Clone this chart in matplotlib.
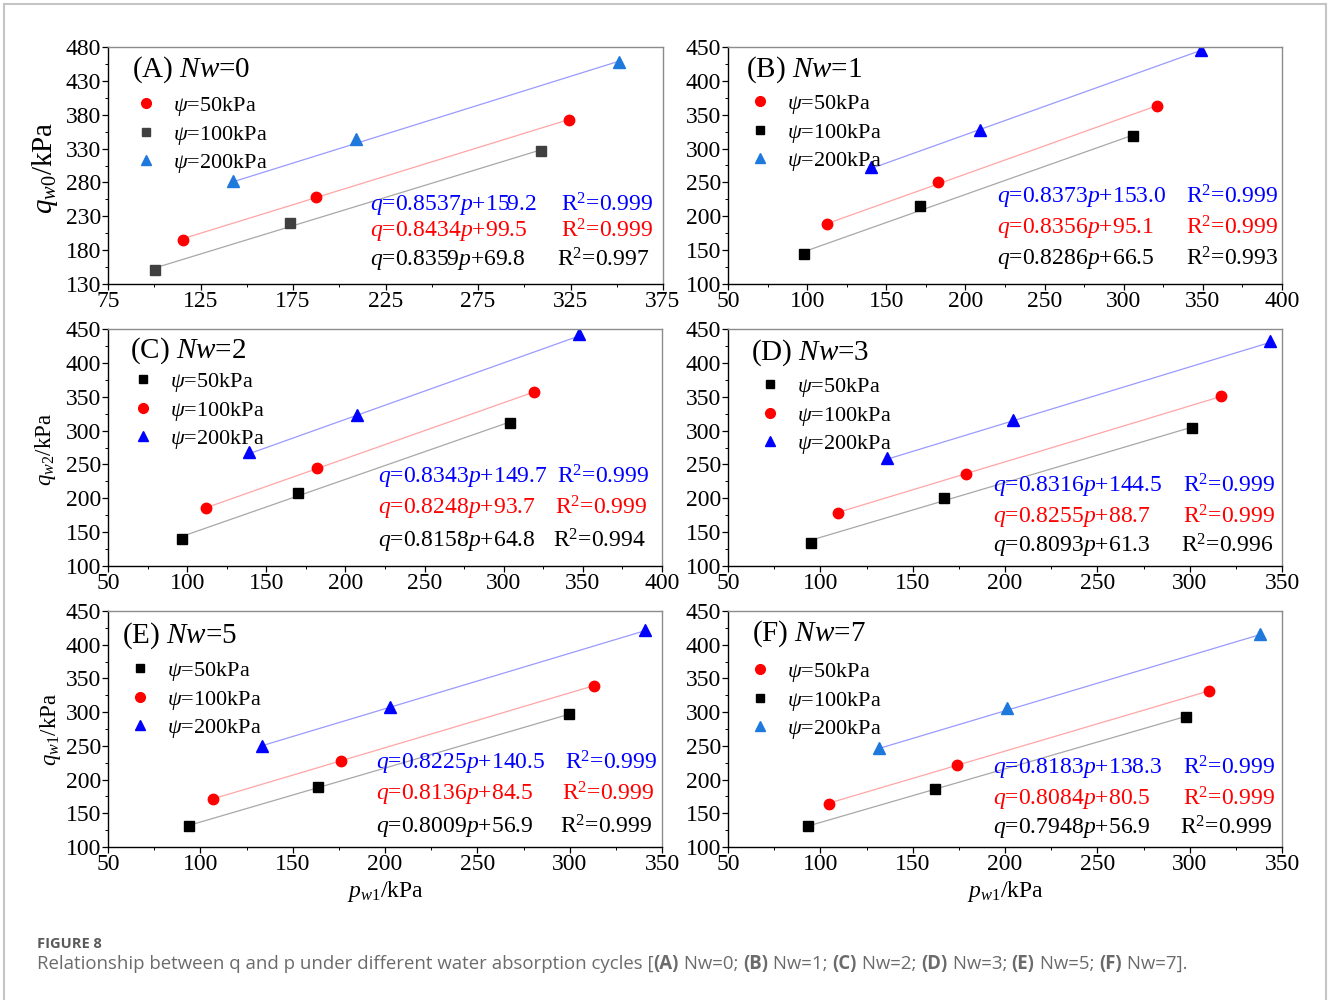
import numpy as np
import matplotlib
matplotlib.use("Agg")
import matplotlib.pyplot as plt
from matplotlib.lines import Line2D
from matplotlib.patches import Rectangle
from matplotlib.ticker import AutoMinorLocator

plt.rcParams['font.family'] = ['Liberation Serif', 'DejaVu Serif']
plt.rcParams['mathtext.fontset'] = 'custom'
plt.rcParams['mathtext.rm'] = 'Liberation Serif'
plt.rcParams['mathtext.it'] = 'Liberation Serif:italic'
plt.rcParams['mathtext.bf'] = 'Liberation Serif:bold'

# panels A..F -> Nw values
panels = ['A', 'B', 'C', 'D', 'E', 'F']
nw = [0, 1, 2, 3, 5, 7]

# red circles
red_p = [[115.5, 187.5, 324.0], [112.7, 182.9, 321.0], [111.9, 181.8, 319.1],
         [109.5, 179.0, 316.8], [107.1, 176.4, 313.3], [104.6, 174.1, 310.4]]
red_q = [[195.5, 259.0, 371.5], [189.0, 250.0, 362.5], [185.0, 244.0, 356.3],
         [178.7, 236.6, 351.0], [171.5, 228.1, 339.0], [164.1, 221.7, 330.7]]
# black squares
black_p = [[100.5, 173.5, 309.0], [97.8, 171.3, 305.8], [96.9, 169.8, 303.8],
           [94.9, 166.8, 301.1], [93.9, 163.5, 299.5], [93.1, 162.2, 297.8]]
black_q = [[151.0, 220.5, 326.0], [144.0, 215.5, 318.0], [140.0, 208.0, 310.5],
           [134.7, 201.0, 304.0], [130.6, 189.7, 297.6], [130.6, 186.2, 292.7]]
# blue triangles
blue_p = [[142.5, 209.0, 351.0], [140.6, 209.0, 348.7], [139.3, 207.3, 347.3],
          [136.1, 204.6, 343.4], [133.4, 202.9, 340.6], [131.6, 201.3, 338.3]]
blue_q = [[281.5, 344.0, 458.0], [273.0, 328.0, 446.0], [268.5, 322.8, 442.5],
          [259.4, 316.3, 432.7], [250.3, 307.5, 421.3], [246.4, 305.5, 415.4]]

# fitted q = k*p + b  (blue, red, black)
slope = [[0.8537, 0.8434, 0.8359], [0.8373, 0.8356, 0.8286], [0.8343, 0.8248, 0.8158],
         [0.8316, 0.8255, 0.8093], [0.8225, 0.8136, 0.8009], [0.8183, 0.8084, 0.7948]]
icpt = [[159.2, 99.5, 69.8], [153.0, 95.1, 66.5], [149.7, 93.7, 64.8],
        [144.5, 88.7, 61.3], [140.5, 84.5, 56.9], [138.3, 80.5, 56.9]]
slope_txt = [['0.8537', '0.8434', '0.8359'], ['0.8373', '0.8356', '0.8286'],
             ['0.8343', '0.8248', '0.8158'], ['0.8316', '0.8255', '0.8093'],
             ['0.8225', '0.8136', '0.8009'], ['0.8183', '0.8084', '0.7948']]
icpt_txt = [['159.2', '99.5', '69.8'], ['153.0', '95.1', '66.5'], ['149.7', '93.7', '64.8'],
            ['144.5', '88.7', '61.3'], ['140.5', '84.5', '56.9'], ['138.3', '80.5', '56.9']]
r2_txt = [['0.999', '0.999', '0.997'], ['0.999', '0.999', '0.993'], ['0.999', '0.999', '0.994'],
          ['0.999', '0.999', '0.996'], ['0.999', '0.999', '0.999'], ['0.999', '0.999', '0.999']]

# suction label for each series (red, black) per panel
red_psi = ['50', '50', '100', '100', '100', '50']
black_psi = ['100', '100', '50', '50', '50', '100']

xlims = [(75, 375), (50, 400), (50, 400), (50, 350), (50, 350), (50, 350)]
ylims = [(130, 480), (100, 450), (100, 450), (100, 450), (100, 450), (100, 450)]

W, H = 1328, 1000
fig = plt.figure(figsize=(W / 100, H / 100), dpi=100)

# axes boxes in pixels: left, right, top, bottom
boxes = [(108, 663, 47, 284), (728, 1282, 47, 284),
         (108, 662, 329, 566), (728, 1282, 329, 566),
         (108, 662, 611, 847), (728, 1282, 611, 847)]
title_pos = [(132, 70), (746, 70), (130, 351), (751, 353), (122, 636), (752, 634)]
legend_pos = [(146, 104), (760, 102), (143, 380), (770, 385), (140, 669), (760, 670)]
eq_pos = [(370, [205, 231, 260], [561, 561, 557]),
          (997, [197, 228, 259], [1186, 1186, 1186]),
          (378, [477, 508, 541], [557, 555, 553]),
          (993, [486, 517, 546], [1183, 1183, 1181]),
          (376, [763, 794, 827], [565, 562, 560]),
          (993, [768, 799, 828], [1183, 1183, 1180])]

# blue shade of triangles in the plot and in the legend
tri_col = ['#1f78dc', '#0000ff', '#0000ff', '#0000ff', '#0000ff', '#1f78dc']
tri_leg = ['#1f78dc', '#1f78dc', '#0000ff', '#0000ff', '#0000ff', '#1f78dc']
sq_col = ['#404040', '#000000', '#000000', '#000000', '#000000', '#000000']


def fx(x):
    return x / W


def fy(y):
    return 1 - y / H


for i in range(6):
    l, r, t, b = boxes[i]
    ax = fig.add_axes([fx(l), fy(b), (r - l) / W, (b - t) / H])
    ax.set_xlim(*xlims[i])
    ax.set_ylim(*ylims[i])
    xt = np.arange(xlims[i][0], xlims[i][1] + 1, 50)
    yt = np.arange(ylims[i][0], ylims[i][1] + 1, 50)
    ax.set_xticks(xt, labels=[str(v) for v in xt], fontfamily='Liberation Serif')
    ax.set_yticks(yt, labels=[str(v) for v in yt], fontfamily='Liberation Serif')
    ax.xaxis.set_minor_locator(AutoMinorLocator(2))
    ax.yaxis.set_minor_locator(AutoMinorLocator(2))
    ax.tick_params(which='major', direction='out', length=4, width=0.9, labelsize=17, pad=1)
    ax.tick_params(which='minor', direction='out', length=2.5, width=0.7)
    for s in ['top', 'right']:
        ax.spines[s].set_color('#8c8c8c')
        ax.spines[s].set_linewidth(1.0)
    for s in ['left', 'bottom']:
        ax.spines[s].set_color('black')
        ax.spines[s].set_linewidth(1.0)

    # fit lines
    k, c = slope[i], icpt[i]
    xs = np.array([min(blue_p[i]), max(blue_p[i])])
    ax.plot(xs, k[0] * xs + c[0], color='#9a9aff', lw=0.9)
    xs = np.array([min(red_p[i]), max(red_p[i])])
    ax.plot(xs, k[1] * xs + c[1], color='#ffa5a5', lw=0.9)
    xs = np.array([min(black_p[i]), max(black_p[i])])
    ax.plot(xs, k[2] * xs + c[2], color='#a8a8a8', lw=0.9)

    ax.plot(red_p[i], red_q[i], 'o', color='#ff0000', ms=7.5, ls='none')
    ax.plot(black_p[i], black_q[i], 's', color=sq_col[i], ms=6.5, ls='none')
    ax.plot(blue_p[i], blue_q[i], '^', color=tri_col[i], ms=8, ls='none')

    # legend
    h_red = Line2D([], [], marker='o', color='#ff0000', ls='none', ms=7,
                   label=r'$\psi$=' + red_psi[i] + 'kPa')
    h_blk = Line2D([], [], marker='s', color=sq_col[i], ls='none', ms=6,
                   label=r'$\psi$=' + black_psi[i] + 'kPa')
    h_blu = Line2D([], [], marker='^', color=tri_leg[i], ls='none', ms=7.5,
                   label=r'$\psi$=200kPa')
    handles = [h_red, h_blk, h_blu] if red_psi[i] == '50' else [h_blk, h_red, h_blu]
    mx, my = legend_pos[i]
    fs = 16
    hl = 1.0
    ax.legend(handles=handles, loc='upper left', frameon=False, fontsize=fs,
              handlelength=hl, handletextpad=0.7, labelspacing=0.25, borderpad=0,
              borderaxespad=0, bbox_to_anchor=(fx(mx - hl * fs * 100 / 72 / 2), fy(my - 9)),
              bbox_transform=fig.transFigure)

    # panel title
    tx, ty = title_pos[i]
    fig.text(fx(tx), fy(ty), '(' + panels[i] + ') $Nw$=' + str(nw[i]),
             fontsize=21, ha='left', va='center')

    # equations
    ex, eys, rxs = eq_pos[i]
    for j, col in enumerate(['#0000ff', '#ff0000', '#000000']):
        fig.text(fx(ex), fy(eys[j]), '$q$=' + slope_txt[i][j] + '$p$+' + icpt_txt[i][j],
                 fontsize=17, color=col, ha='left', va='center')
        fig.text(fx(rxs[j]), fy(eys[j]), 'R$^2$=' + r2_txt[i][j],
                 fontsize=17, color=col, ha='left', va='center')

# axis labels
fig.text(fx(45), fy(168), '$q_{w0}$/kPa', fontsize=21, rotation=90, ha='center', va='center')
fig.text(fx(45), fy(449), '$q_{w2}$/kPa', fontsize=16.5, rotation=90, ha='center', va='center')
fig.text(fx(50), fy(729), '$q_{w1}$/kPa', fontsize=16.5, rotation=90, ha='center', va='center')
fig.text(fx(385), fy(891), '$p_{w1}$/kPa', fontsize=17, ha='center', va='center')
fig.text(fx(1005), fy(891), '$p_{w1}$/kPa', fontsize=17, ha='center', va='center')

# caption
fig.text(fx(37), fy(944), 'FIGURE 8', fontsize=10.5, fontweight='bold', color='#5a5a5a',
         family=['Open Sans', 'DejaVu Sans'], ha='left', va='center')
pieces = [('Relationship between q and p under different water absorption cycles [', 'normal')]
for i in range(6):
    pieces.append(('(' + panels[i] + ')', 'bold'))
    end = '; ' if i < 5 else '].'
    pieces.append((' Nw=' + str(nw[i]) + end, 'normal'))
fig.canvas.draw()
renderer = fig.canvas.get_renderer()
xpos = 37
for txt, wgt in pieces:
    t = fig.text(fx(xpos), fy(964), txt, fontsize=13.4, fontweight=wgt, color='#6b6b6b',
                 family=['Open Sans', 'DejaVu Sans'], ha='left', va='center')
    bb = t.get_window_extent(renderer)
    xpos += bb.width

fig.patches.append(Rectangle((fx(4), -0.05), (1326 - 4) / W, 1.05 - 4 / H, transform=fig.transFigure,
                             fill=False, ec='#c4c4c4', lw=1.5))

fig.savefig('out.png', dpi=100)
